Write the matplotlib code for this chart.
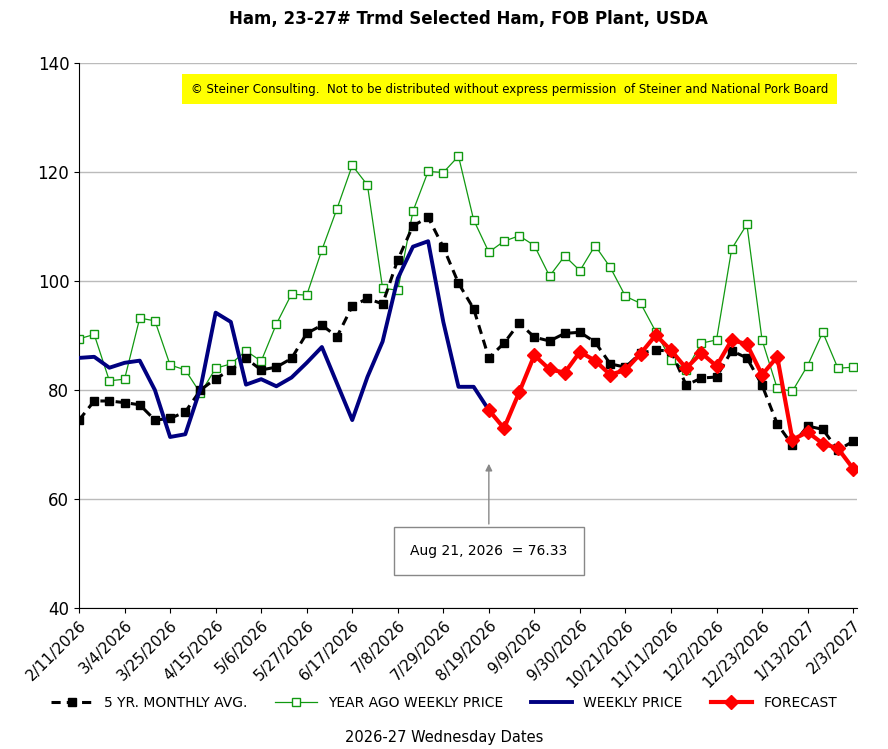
import matplotlib
matplotlib.use("Agg")
import matplotlib.pyplot as plt
import numpy as np
import pandas as pd

# ── data ──────────────────────────────────────────────────────────────────────
dates = pd.date_range("2026-02-11", periods=52, freq="7D")
tick_labels = [f"{d.month}/{d.day}/{d.year}" for d in dates[::3]]

five_yr_avg = [74.5, 78.0, 78.0, 77.7, 77.3, 74.5, 74.8, 76.0, 80.0, 82.1, 83.7, 85.8,
               83.7, 84.2, 85.8, 90.4, 91.9, 89.8, 95.4, 96.8, 95.8, 103.9, 110.1, 111.7,
               106.2, 99.6, 94.9, 85.9, 88.6, 92.3, 89.7, 89.0, 90.4, 90.6, 88.8, 84.8,
               84.2, 86.8, 87.3, 87.2, 80.9, 82.2, 82.4, 87.2, 85.9, 80.9, 73.8, 69.9,
               73.4, 72.8, 69.0, 70.6]
year_ago = [89.4, 90.2, 81.7, 82.0, 93.2, 92.7, 84.6, 83.7, 79.4, 84.0, 84.8, 87.2,
            85.3, 92.1, 97.6, 97.4, 105.7, 113.3, 121.2, 117.6, 98.7, 98.3, 112.8, 120.1,
            119.9, 122.9, 111.2, 105.3, 107.3, 108.3, 106.5, 100.9, 104.6, 101.9, 106.5,
            102.5, 97.2, 95.9, 90.7, 85.5, 83.7, 88.6, 89.2, 105.9, 110.4, 89.2, 80.3,
            79.8, 84.5, 90.6, 84.0, 84.2]
weekly = [85.9, 86.1, 84.1, 85.0, 85.4, 80.0, 71.4, 71.9, 80.3, 94.2, 92.5, 81.0,
          82.0, 80.7, 82.3, 85.0, 87.9, 81.2, 74.5, 82.4, 88.9, 100.5, 106.3, 107.3,
          92.5, 80.6, 80.6, 76.33]
forecast = [76.33, 73.0, 79.6, 86.4, 83.8, 83.2, 87.0, 85.4, 82.8, 83.7, 86.7, 90.1,
            87.3, 84.0, 86.8, 84.4, 89.2, 88.4, 82.8, 86.1, 70.9, 72.3, 70.2, 69.3, 65.6]

x = np.arange(len(dates))
x_fc = np.arange(len(weekly) - 1, len(dates))

# ── plot ──────────────────────────────────────────────────────────────────────
plt.rcParams["font.family"] = "DejaVu Sans"
fig = plt.figure(figsize=(8.88, 7.49), dpi=100)
ax = fig.add_axes([0.089, 0.188, 0.876, 0.728])

ax.plot(x, five_yr_avg, color="black", ls=(0, (3, 2)), lw=2.2, marker="s", ms=6,
        label="5 YR. MONTHLY AVG.", zorder=3)
ax.plot(x, year_ago, color="#119911", lw=0.9, marker="s", ms=6, mfc="white",
        mec="#119911", mew=1, label="YEAR AGO WEEKLY PRICE", zorder=2)
ax.plot(x[:len(weekly)], weekly, color="#000080", lw=2.8, label="WEEKLY PRICE", zorder=4)
ax.plot(x_fc, forecast, color="#ff0000", lw=3, marker="D", ms=7,
        label="FORECAST", zorder=5)

ax.set_xlim(0, 51.25)
ax.set_ylim(40, 140)
ax.set_yticks(range(40, 141, 20))
ax.set_xticks(x[::3])
ax.set_xticklabels(tick_labels, rotation=45, ha="right", rotation_mode="anchor", fontsize=11)
ax.tick_params(axis="y", labelsize=12)
ax.yaxis.grid(True, color="#bbbbbb", lw=1)
ax.set_axisbelow(True)
for s in ("top", "right"):
    ax.spines[s].set_visible(False)

ax.set_title("Ham, 23-27# Trmd Selected Ham, FOB Plant, USDA",
             fontsize=12, fontweight="bold", pad=28)

ax.text(0.553, 0.952,
        "© Steiner Consulting.  Not to be distributed without express permission  of Steiner and National Pork Board",
        transform=ax.transAxes, ha="center", va="center", fontsize=8.5,
        bbox=dict(boxstyle="square,pad=0.75", fc="#ffff00", ec="none"))

ax.annotate(f"Aug 21, 2026  = {weekly[-1]:.2f}", xy=(27, 67), xytext=(27, 50.5),
            ha="center", va="center", fontsize=10,
            bbox=dict(boxstyle="square,pad=1.2", fc="white", ec="#888888"),
            arrowprops=dict(arrowstyle="-|>", color="#888888", lw=1))

fig.legend(loc="lower center", bbox_to_anchor=(0.5, 0.035), ncol=4, frameon=False,
           fontsize=10, handlelength=3, columnspacing=2)
fig.text(0.5, 0.01, "2026-27 Wednesday Dates", ha="center", fontsize=10.5)

fig.savefig("out.png", dpi=100)
